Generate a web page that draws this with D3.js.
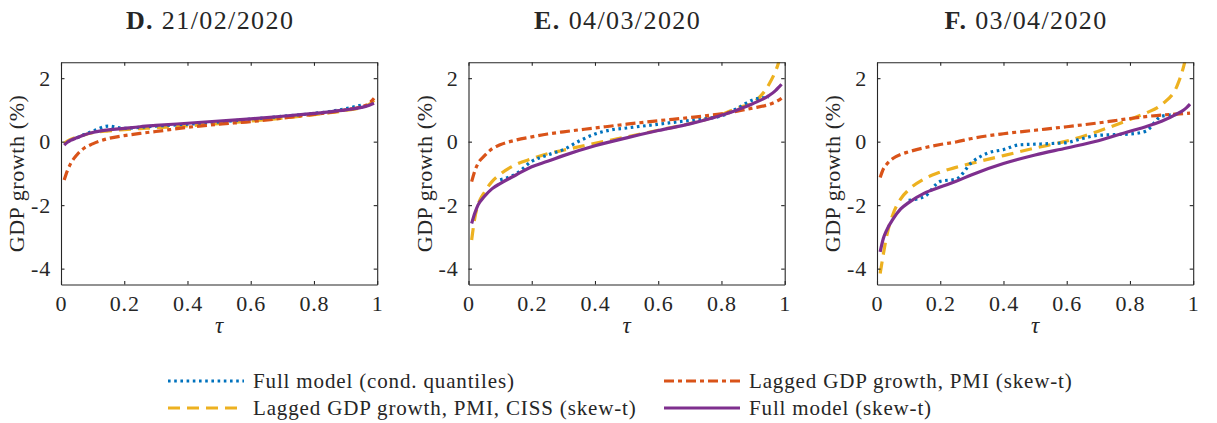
<!DOCTYPE html>
<html><head><meta charset="utf-8">
<script src="https://cdn.jsdelivr.net/npm/d3@7"></script>
<style>
body{margin:0;background:#fff;}
svg text{font-family:"Liberation Serif","DejaVu Serif",serif;fill:#262626;}
</style></head>
<body><svg id="c" width="1217" height="423"></svg>
<script>
// ---------------- data ----------------
const panelTitlesBold = ["D.", "E.", "F."];
const panelTitlesDate = ["21/02/2020", "04/03/2020", "03/04/2020"];
const xTicks = [0, 0.2, 0.4, 0.6, 0.8, 1];
const xTickLabels = ["0", "0.2", "0.4", "0.6", "0.8", "1"];
const yTicks = [-4, -2, 0, 2];
const yTickLabels = ["-4", "-2", "0", "2"];
const seriesNames = ["Full model (cond. quantiles)", "Lagged GDP growth, PMI (skew-t)",
                     "Lagged GDP growth, PMI, CISS (skew-t)", "Full model (skew-t)"];

// quantile grid for the skew-t curves
const tau = [0.01,0.02,0.03,0.05,0.075,0.1,0.15,0.2,0.25,0.3,0.4,0.5,0.6,0.7,0.8,0.85,0.9,0.95,0.97,0.98,0.99];
// quantile grid for conditional quantiles
const tauQ = [0.05,0.1,0.15,0.2,0.25,0.3,0.35,0.4,0.45,0.5,0.55,0.6,0.65,0.7,0.75,0.8,0.85,0.9,0.95];

// Panel D
const condQ_D   = [0.12,0.33,0.49,0.42,0.45,0.49,0.52,0.55,0.58,0.62,0.66,0.71,0.75,0.80,0.84,0.89,0.95,1.04,1.15];
const lagPMI_D  = [-1.21,-0.92,-0.70,-0.42,-0.19,-0.07,0.10,0.19,0.26,0.32,0.45,0.55,0.63,0.74,0.86,0.92,1.00,1.10,1.18,1.26,1.37];
const lagCISS_D = [-0.05,0.02,0.07,0.14,0.22,0.28,0.34,0.38,0.41,0.44,0.50,0.57,0.65,0.74,0.85,0.91,0.98,1.08,1.15,1.21,1.30];
const fullST_D  = [-0.11,-0.02,0.04,0.12,0.22,0.29,0.37,0.42,0.47,0.51,0.58,0.65,0.72,0.80,0.89,0.94,1.00,1.08,1.13,1.17,1.21];
// Panel E
const condQ_E   = [null,-1.20,-1.02,-0.62,-0.42,-0.25,0.02,0.24,0.37,0.43,0.49,0.55,0.61,0.67,0.73,0.81,1.05,1.32,1.40];
const lagPMI_E  = [-1.26,-0.92,-0.69,-0.45,-0.22,-0.10,0.05,0.15,0.24,0.31,0.43,0.55,0.66,0.76,0.88,0.96,1.06,1.17,1.25,1.30,1.37];
const lagCISS_E = [-3.10,-2.40,-2.00,-1.60,-1.25,-1.03,-0.72,-0.54,-0.38,-0.27,-0.05,0.15,0.36,0.57,0.85,1.06,1.23,1.80,2.20,2.47,2.90];
const fullST_E  = [-2.58,-2.25,-2.00,-1.73,-1.48,-1.32,-1.05,-0.79,-0.62,-0.44,-0.13,0.12,0.35,0.56,0.83,1.00,1.20,1.45,1.60,1.70,1.81];
// Panel F
const condQ_F   = [null,-1.85,-1.73,-1.25,-1.18,-0.65,-0.36,-0.25,-0.10,-0.08,-0.06,-0.03,0.10,0.20,0.22,0.24,0.33,0.80,0.86];
const lagPMI_F  = [-1.13,-0.86,-0.72,-0.53,-0.40,-0.32,-0.19,-0.09,-0.01,0.10,0.25,0.36,0.47,0.59,0.73,0.79,0.84,0.87,0.88,0.89,0.90];
const lagCISS_F = [-4.15,-3.55,-3.00,-2.30,-1.80,-1.52,-1.17,-0.96,-0.81,-0.68,-0.44,-0.20,0.02,0.33,0.70,0.90,1.17,1.78,2.38,2.80,3.40];
const fullST_F  = [-3.47,-3.05,-2.80,-2.45,-2.12,-1.92,-1.62,-1.43,-1.25,-1.04,-0.69,-0.42,-0.20,0.03,0.33,0.47,0.64,0.88,1.00,1.08,1.18];

const panels = [
  {condQ: condQ_D, lagPMI: lagPMI_D, lagCISS: lagCISS_D, fullST: fullST_D},
  {condQ: condQ_E, lagPMI: lagPMI_E, lagCISS: lagCISS_E, fullST: fullST_E},
  {condQ: condQ_F, lagPMI: lagPMI_F, lagCISS: lagCISS_F, fullST: fullST_F}
];

// ---------------- styles ----------------
const colors = {condQ:"#0072BD", lagPMI:"#D95319", lagCISS:"#EDB120", fullST:"#7E2F8E"};
const dashes = {condQ:"2.6,3.6", lagPMI:"10,4,4,4", lagCISS:"12,7", fullST:null};
const widths = {condQ:3.2, lagPMI:3.2, lagCISS:3.2, fullST:3.2};

const svg = d3.select("#c");
const axLeft = [61, 468.5, 877];
const axW = 316.2, axTop = 62.3, axH = 222.2;
const axisColor = "#262626";

panels.forEach((p, i) => {
  const g = svg.append("g").attr("transform", `translate(${axLeft[i]},${axTop})`);
  const x = d3.scaleLinear().domain([0, 1]).range([0, axW]);
  const y = d3.scaleLinear().domain([-4.5, 2.5]).range([axH, 0]);

  const clipId = "clip" + i;
  g.append("clipPath").attr("id", clipId).append("rect")
    .attr("x", 0).attr("y", 0).attr("width", axW).attr("height", axH);

  const lines = g.append("g").attr("clip-path", `url(#${clipId})`);
  const drawSeries = (key, xs) => {
    const pts = xs.map((t, k) => [t, p[key][k]]);
    const line = d3.line().defined(d => d[1] !== null)
      .x(d => x(d[0])).y(d => y(d[1])).curve(d3.curveMonotoneX);
    lines.append("path").datum(pts)
      .attr("d", line).attr("fill", "none")
      .attr("stroke", colors[key]).attr("stroke-width", widths[key])
      .attr("stroke-dasharray", dashes[key]);
  };
  drawSeries("lagCISS", tau);
  drawSeries("condQ", tauQ);
  drawSeries("lagPMI", tau);
  drawSeries("fullST", tau);

  // axes
  const ax = d3.axisBottom(x).tickValues(xTicks).tickFormat((d, k) => xTickLabels[k])
    .tickSizeInner(-3.5).tickSizeOuter(0).tickPadding(13);
  const gx = g.append("g").attr("transform", `translate(0,${axH})`).call(ax);
  const axT = d3.axisTop(x).tickValues(xTicks).tickFormat("").tickSizeInner(-3.5).tickSizeOuter(0);
  const gxt = g.append("g").call(axT);
  const ay = d3.axisLeft(y).tickValues(yTicks).tickFormat((d, k) => yTickLabels[k])
    .tickSizeInner(-3.5).tickSizeOuter(0).tickPadding(10);
  const gy = g.append("g").call(ay);
  const ayR = d3.axisRight(y).tickValues(yTicks).tickFormat("").tickSizeInner(-3.5).tickSizeOuter(0);
  const gyr = g.append("g").attr("transform", `translate(${axW},0)`).call(ayR);
  [gx, gxt, gy, gyr].forEach(a => {
    a.selectAll("path").attr("stroke", axisColor).attr("stroke-width", 1.1);
    a.selectAll("line").attr("stroke", axisColor).attr("stroke-width", 1.1);
    a.selectAll("text").style("font-family", '"Liberation Serif", serif')
      .attr("font-size", 22).attr("letter-spacing", 0.8).attr("fill", axisColor);
  });
  gx.selectAll("text").attr("dy", "0.6em");
  gy.selectAll("text").attr("dy", "0.33em");

  // labels
  g.append("text").attr("x", axW / 2).attr("y", axH + 49)
    .attr("text-anchor", "middle").attr("font-size", 23).attr("font-style", "italic").text("τ");
  g.append("text").attr("transform", `translate(-37,${axH / 2}) rotate(-90)`)
    .attr("text-anchor", "middle").attr("font-size", 22).attr("letter-spacing", 0.6).text("GDP growth (%)");

  const t = g.append("text").attr("x", axW / 2 - 9).attr("y", -33)
    .attr("text-anchor", "middle").attr("font-size", 26).attr("letter-spacing", 1.4);
  t.append("tspan").attr("font-weight", "bold").text(panelTitlesBold[i]);
  t.append("tspan").text(" " + panelTitlesDate[i]);
});

// legend
const legendItems = [
  {key:"condQ", x:168, y:381},
  {key:"lagPMI", x:664, y:381},
  {key:"lagCISS", x:168, y:408},
  {key:"fullST", x:664, y:408}
];
const keysOrder = ["condQ", "lagPMI", "lagCISS", "fullST"];
const lg = svg.append("g");
legendItems.forEach((it, k) => {
  lg.append("line").attr("x1", it.x).attr("x2", it.x + 76).attr("y1", it.y).attr("y2", it.y)
    .attr("stroke", colors[it.key]).attr("stroke-width", widths[it.key])
    .attr("stroke-dasharray", dashes[it.key]);
  lg.append("text").attr("x", it.x + 85).attr("y", it.y).attr("dy", "0.33em")
    .attr("font-size", 21).attr("letter-spacing", 0.85).text(seriesNames[keysOrder.indexOf(it.key)]);
});
</script></body></html>
